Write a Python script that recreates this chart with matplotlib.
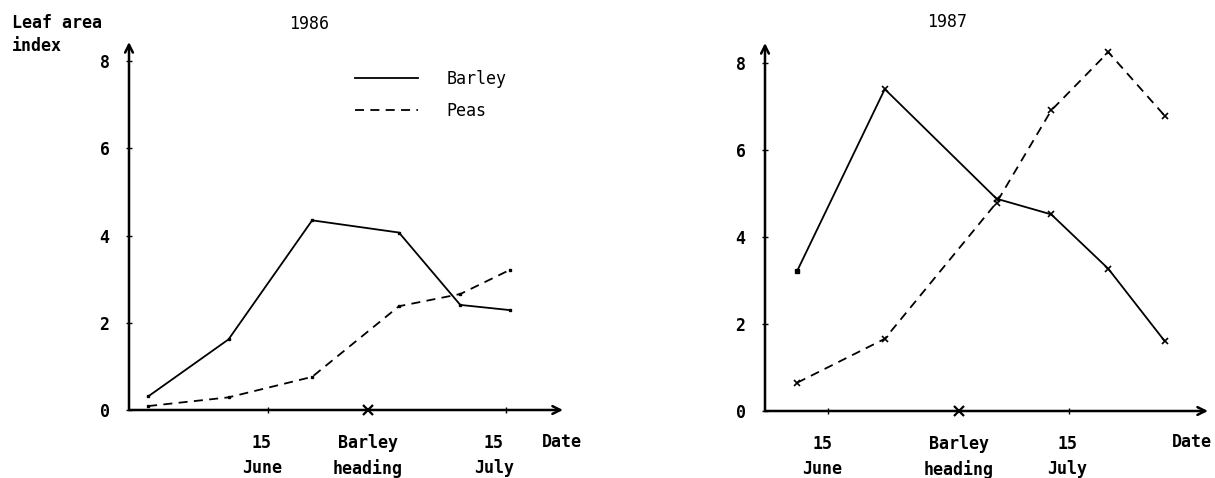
import matplotlib
matplotlib.use("Agg")
import matplotlib.pyplot as plt
from matplotlib.lines import Line2D

# ---------------------------------------------------------
# data: days counted from 1 June (15 June = 14, 15 July = 44)
# ---------------------------------------------------------
days_1986 = [-1.0, 9.1, 19.6, 30.5, 38.2, 44.5]
barley_1986 = [0.31, 1.62, 4.35, 4.07, 2.41, 2.29]
peas_1986 = [0.09, 0.29, 0.76, 2.38, 2.66, 3.22]
heading_1986 = 26.6

days_1987 = [10.2, 21.1, 35.0, 41.8, 48.9, 55.9]
barley_1987 = [3.22, 7.40, 4.88, 4.52, 3.27, 1.61]
peas_1987 = [0.65, 1.66, 4.79, 6.91, 8.25, 6.79]
heading_1987 = 30.3

date_ticks = [14, 44]
date_labels = ["15\nJune", "Barley\nheading", "15\nJuly"]
y_ticks = [0, 2, 4, 6, 8]

W, H = 1215, 478
MONO = "DejaVu Sans Mono"
FS = 12
DASH = (0, (5, 3.5))


def px_box(x0, y_bottom, x1, y_top):
    return [x0 / W, 1 - y_bottom / H, (x1 - x0) / W, (y_bottom - y_top) / H]


def draw_panel(ax, days, barley, peas, heading, xlim, ylim, mark, label_shift):
    ax.set_xlim(*xlim)
    ax.set_ylim(*ylim)
    for s in ax.spines.values():
        s.set_visible(False)

    # axes drawn as arrows
    arrow = dict(arrowstyle="->", lw=1.8, color="black", mutation_scale=14,
                 shrinkA=0, shrinkB=0)
    ax.annotate("", xy=(1, 0), xytext=(0, 0), xycoords="axes fraction",
                arrowprops=arrow, annotation_clip=False)
    ax.annotate("", xy=(0, 1), xytext=(0, 0), xycoords="axes fraction",
                arrowprops=arrow, annotation_clip=False)

    if mark == "x":
        # first barley sample is only a dot, the rest are crosses
        ax.plot(days, barley, color="black", lw=1.3, marker="x", ms=5,
                mew=1.2, markevery=slice(1, None), clip_on=False)
        ax.plot(days[:1], barley[:1], "s", color="black", ms=2.2,
                clip_on=False)
        ax.plot(days, peas, color="black", lw=1.3, linestyle=DASH,
                marker="x", ms=5, mew=1.2, clip_on=False)
    else:
        ax.plot(days, barley, color="black", lw=1.3, marker="s", ms=1.8,
                clip_on=False)
        ax.plot(days, peas, color="black", lw=1.3, linestyle=DASH,
                marker="s", ms=1.8, clip_on=False)
    ax.plot([heading], [0], marker="x", ms=7, mew=1.6, color="black",
            clip_on=False, zorder=5)

    ax.set_yticks(y_ticks)
    ax.set_yticklabels([str(v) for v in y_ticks], fontfamily=MONO,
                       fontweight="bold", fontsize=FS)
    ax.tick_params(axis="y", length=4, width=1, direction="inout", pad=12)

    # small date ticks on the axis, labels set slightly left of them
    ax.set_xticks(date_ticks, minor=True)
    ax.tick_params(axis="x", which="minor", length=5, width=1,
                   direction="inout")
    ax.set_xticks([date_ticks[0] - label_shift[0], heading,
                   date_ticks[1] - label_shift[1]])
    ax.set_xticklabels(date_labels, fontfamily=MONO, fontweight="bold",
                       fontsize=FS, linespacing=1.5)
    ax.tick_params(axis="x", which="major", length=0, pad=17)


fig = plt.figure(figsize=(W / 100, H / 100), dpi=100)

ax1 = fig.add_axes(px_box(129, 410, 563, 42))
draw_panel(ax1, days_1986, barley_1986, peas_1986, heading_1986,
           (-3.4, 51.1), (0, 368 / 43.6), "s", (0.7, 1.6))

ax2 = fig.add_axes(px_box(765, 411, 1208, 43))
draw_panel(ax2, days_1987, barley_1987, peas_1987, heading_1987,
           (6.2, 61.3), (0, 368 / 43.5), "x", (0.7, 0.2))

# titles and axis captions
fig.text(309 / W, 1 - 24 / H, "1986", fontfamily=MONO, fontsize=FS,
         ha="center", va="center")
fig.text(947 / W, 1 - 22 / H, "1987", fontfamily=MONO, fontsize=FS,
         ha="center", va="center")
fig.text(12 / W, 1 - 23 / H, "Leaf area", fontfamily=MONO, fontsize=FS,
         fontweight="bold", ha="left", va="center")
fig.text(12 / W, 1 - 46 / H, "index", fontfamily=MONO, fontsize=FS,
         fontweight="bold", ha="left", va="center")
fig.text(562 / W, 1 - 442 / H, "Date", fontfamily=MONO, fontsize=FS,
         fontweight="bold", ha="center", va="center")
fig.text(1192 / W, 1 - 442 / H, "Date", fontfamily=MONO, fontsize=FS,
         fontweight="bold", ha="center", va="center")

handles = [
    Line2D([], [], color="black", lw=1.3),
    Line2D([], [], color="black", lw=1.3, linestyle=DASH),
]
fig.legend(handles, ["Barley", "Peas"], loc="upper left",
           bbox_to_anchor=(355 / W, 1 - 70 / H), bbox_transform=fig.transFigure,
           frameon=False, borderpad=0, borderaxespad=0, handlelength=3.8,
           handletextpad=1.7, labelspacing=0.85,
           prop={"family": MONO, "size": FS})

fig.savefig("out.png", dpi=100)
